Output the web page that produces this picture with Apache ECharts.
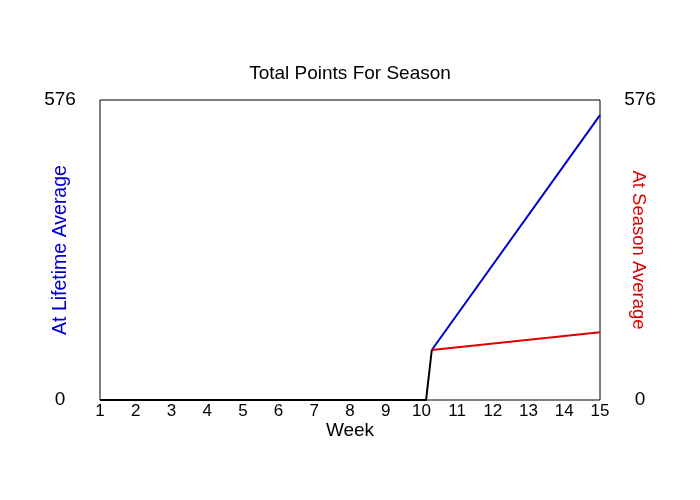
<!DOCTYPE html>
<html>
<head>
<meta charset="utf-8">
<script src="https://cdn.jsdelivr.net/npm/echarts@6/dist/echarts.min.js"></script>
<style>
  html, body { margin: 0; padding: 0; background: #fff; }
  #chart { width: 700px; height: 500px; }
</style>
</head>
<body>
<div id="chart"></div>
<script>
  // values (x = week, y = points)
  var baseWeeks = [1, 10.13, 10.29];
  var baseValues = [0, 0, 96];
  var lifetimeWeeks = [10.29, 15];
  var lifetimeValues = [96, 547];
  var seasonWeeks = [10.29, 15];
  var seasonValues = [96, 130];
  var yMax = 576;

  function pairs(xs, ys) {
    var out = [];
    for (var i = 0; i < xs.length; i++) {
      out.push([xs[i], ys[i]]);
    }
    return out;
  }

  var font = 'Liberation Sans, Arial, sans-serif';
  var mChart = echarts.init(document.getElementById('chart'));

  var option = {
    animation: false,
    title: {
      text: 'Total Points For Season',
      left: 'center',
      top: 59,
      textStyle: { fontSize: 19, fontWeight: 'normal', color: '#000', fontFamily: font }
    },
    grid: {
      left: 100, right: 100, top: 100, bottom: 100,
      show: true, borderColor: '#000', borderWidth: 1, backgroundColor: '#fff'
    },
    xAxis: {
      type: 'value',
      min: 1, max: 15, interval: 1,
      name: 'Week',
      nameLocation: 'middle',
      nameGap: 21,
      nameMoveOverlap: false,
      nameTextStyle: { fontSize: 19, color: '#000', fontFamily: font },
      axisLine: { show: false },
      axisTick: { show: false },
      splitLine: { show: false },
      axisLabel: { margin: 3, fontSize: 17, color: '#000', fontFamily: font }
    },
    yAxis: [{
      type: 'value',
      position: 'left',
      min: 0, max: yMax, interval: yMax,
      name: 'At Lifetime Average',
      nameLocation: 'middle',
      nameRotate: 90,
      nameGap: 29,
      nameMoveOverlap: false,
      nameTextStyle: { fontSize: 19.5, color: '#0000CC', fontFamily: font },
      axisLine: { show: false },
      axisTick: { show: false },
      splitLine: { show: false },
      axisLabel: { margin: 40, align: 'center', fontSize: 19, color: '#000', fontFamily: font }
    }, {
      type: 'value',
      position: 'right',
      min: 0, max: yMax, interval: yMax,
      name: 'At Season Average',
      nameLocation: 'middle',
      nameRotate: -90,
      nameGap: 29,
      nameMoveOverlap: false,
      nameTextStyle: { fontSize: 18.5, color: '#DD0000', fontFamily: font },
      axisLine: { show: false },
      axisTick: { show: false },
      splitLine: { show: false },
      axisLabel: { margin: 40, align: 'center', fontSize: 19, color: '#000', fontFamily: font }
    }],
    series: [{
      name: 'Lifetime',
      type: 'line',
      data: pairs(lifetimeWeeks, lifetimeValues),
      symbol: 'none',
      lineStyle: { color: '#0000CC', width: 2 }
    }, {
      name: 'Season',
      type: 'line',
      yAxisIndex: 1,
      data: pairs(seasonWeeks, seasonValues),
      symbol: 'none',
      lineStyle: { color: '#DD0000', width: 2 }
    }, {
      name: 'Actual',
      type: 'line',
      data: pairs(baseWeeks, baseValues),
      symbol: 'none',
      lineStyle: { color: '#000', width: 2 }
    }]
  };

  mChart.setOption(option);
</script>
</body>
</html>
